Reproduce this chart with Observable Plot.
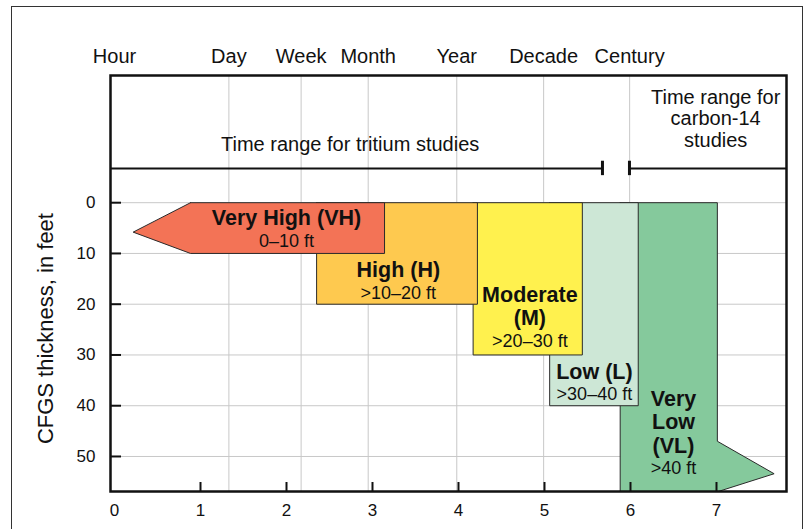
<!DOCTYPE html>
<html><head><meta charset="utf-8">
<script src="https://cdn.jsdelivr.net/npm/d3@7"></script>
<script src="https://cdn.jsdelivr.net/npm/@observablehq/plot@0.6"></script>
<style>
html,body{margin:0;padding:0;background:#fff;overflow:hidden}
#wrap{position:relative;width:806px;height:529px}
#border{position:absolute;left:10.5px;top:5.5px;width:792px;height:600px;border:1px solid #333;box-sizing:border-box}
#chart{position:absolute;left:0;top:0}
</style></head><body>
<div id="wrap"><div id="border"></div><div id="chart"></div></div>
<script>
// Time scale labels (log10 of hours)
const timeNames = ["Hour", "Day", "Week", "Month", "Year", "Decade", "Century"];
const timeValues = [0, 1.33, 2.17, 2.95, 3.98, 4.99, 5.99];
const xTicks = [0, 1, 2, 3, 4, 5, 6, 7];
const yTicks = [0, 10, 20, 30, 40, 50];

// Susceptibility levels
const levelNames = ["Very High (VH)", "High (H)", "Moderate\n(M)", "Low (L)", "Very\nLow\n(VL)"];
const levelRanges = ["0–10 ft", ">10–20 ft", ">20–30 ft", ">30–40 ft", ">40 ft"];
const levelColors = ["#F37356", "#FEC94F", "#FFF14E", "#CDE7D6", "#85C99C"];
const levelShapes = [
  [[0.884, 0], [3.14, 0], [3.14, 10], [0.884, 10], [0.217, 5.8], [0.884, 0]],
  [[2.35, 0], [4.22, 0], [4.22, 20], [2.35, 20], [2.35, 0]],
  [[4.17, 0], [5.44, 0], [5.44, 30], [4.17, 30], [4.17, 0]],
  [[5.06, 0], [6.09, 0], [6.09, 40], [5.06, 40], [5.06, 0]],
  [[5.88, 0], [7.01, 0], [7.01, 47], [7.67, 53.4], [7.02, 56.9], [5.88, 56.9], [5.88, 0]]
];
const labelX = [2.0, 3.3, 4.83, 5.58, 6.5];
const labelY = [7.6, 17.8, 27.2, 37.8, 52.4];

// Study time ranges
const tritiumRange = [-0.0465, 5.674];
const carbonRange = [5.988, 7.814];
const tritiumLabel = "Time range for tritium studies";
const carbonLabel = "Time range for\ncarbon-14\nstudies";

const xDomain = [-0.0465, 7.814];
const yDomain = [-25.06, 56.9];
const rangeLineY = -6.75;
const font = "'Liberation Sans', Arial, Helvetica, sans-serif";

const dayName = new Map(timeValues.map((v, i) => [v, timeNames[i]]));
const levels = levelNames.map((n, i) => ({name: n, range: levelRanges[i], x: labelX[i], y: labelY[i]}));

const shapeMarks = [];
for (let i = levelShapes.length - 1; i >= 0; i--) {
  shapeMarks.push(Plot.line(levelShapes[i], {
    x: d => d[0], y: d => d[1],
    fill: levelColors[i], stroke: "#2a2a2a", strokeWidth: 1,
    strokeLinejoin: "miter", strokeMiterlimit: 10
  }));
}

const chart = Plot.plot({
  width: 806,
  height: 529,
  marginLeft: 110,
  marginRight: 20,
  marginTop: 75,
  marginBottom: 38,
  style: {fontFamily: font, fontSize: "17px", background: "transparent", color: "#111"},
  x: {domain: xDomain, axis: null, label: null},
  y: {domain: yDomain, reverse: true, axis: null, label: null},
  marks: [
    Plot.gridX(timeValues.slice(1), {stroke: "#c8c8c8", strokeOpacity: 1, strokeWidth: 1}),
    Plot.gridY(yTicks, {stroke: "#c8c8c8", strokeOpacity: 1, strokeWidth: 1}),
    ...shapeMarks,
    // range lines
    Plot.ruleY([rangeLineY], {x1: tritiumRange[0], x2: tritiumRange[1], stroke: "#111", strokeWidth: 2}),
    Plot.ruleY([rangeLineY], {x1: carbonRange[0], x2: carbonRange[1], stroke: "#111", strokeWidth: 2}),
    Plot.ruleX([tritiumRange[1], carbonRange[0]], {y1: rangeLineY - 1.42, y2: rangeLineY + 1.42, stroke: "#111", strokeWidth: 3}),
    Plot.text([tritiumLabel], {x: 2.74, y: -11.5, fontSize: 20, fill: "#111"}),
    Plot.text([carbonLabel], {x: 6.99, y: -16.6, fontSize: 20, lineHeight: 1.07, fill: "#111"}),
    // frame and ticks
    Plot.frame({stroke: "#111", strokeWidth: 2.5}),
    Plot.tickY(yTicks, {y: d => d, insetRight: 665, stroke: "#111", strokeWidth: 2}),
    Plot.tickX(xTicks.slice(1), {x: d => d, insetTop: 407, stroke: "#111", strokeWidth: 2}),
    Plot.axisY(yTicks, {anchor: "left", tickSize: 0, tickPadding: 15, fontSize: 17, label: null}),
    Plot.axisX(xTicks, {anchor: "bottom", tickSize: 0, tickPadding: 12, fontSize: 17, label: null}),
    Plot.axisX(timeValues, {anchor: "top", tickSize: 0, tickPadding: 13, fontSize: 20, label: null, tickFormat: d => dayName.get(d)}),
    Plot.text(["CFGS thickness, in feet"], {x: xDomain[0], y: 24.8, dx: -65, rotate: -90, fontSize: 22, fill: "#111"}),
    // level labels
    Plot.text(levels, {x: "x", y: "y", text: "name", lineAnchor: "bottom", dy: -16, fontSize: 21.5, fontWeight: "bold", lineHeight: 1.08, fill: "#111"}),
    Plot.text(levels, {x: "x", y: "y", text: "range", fontSize: 18, fill: "#111"})
  ]
});
document.getElementById("chart").appendChild(chart);
</script>
</body></html>
